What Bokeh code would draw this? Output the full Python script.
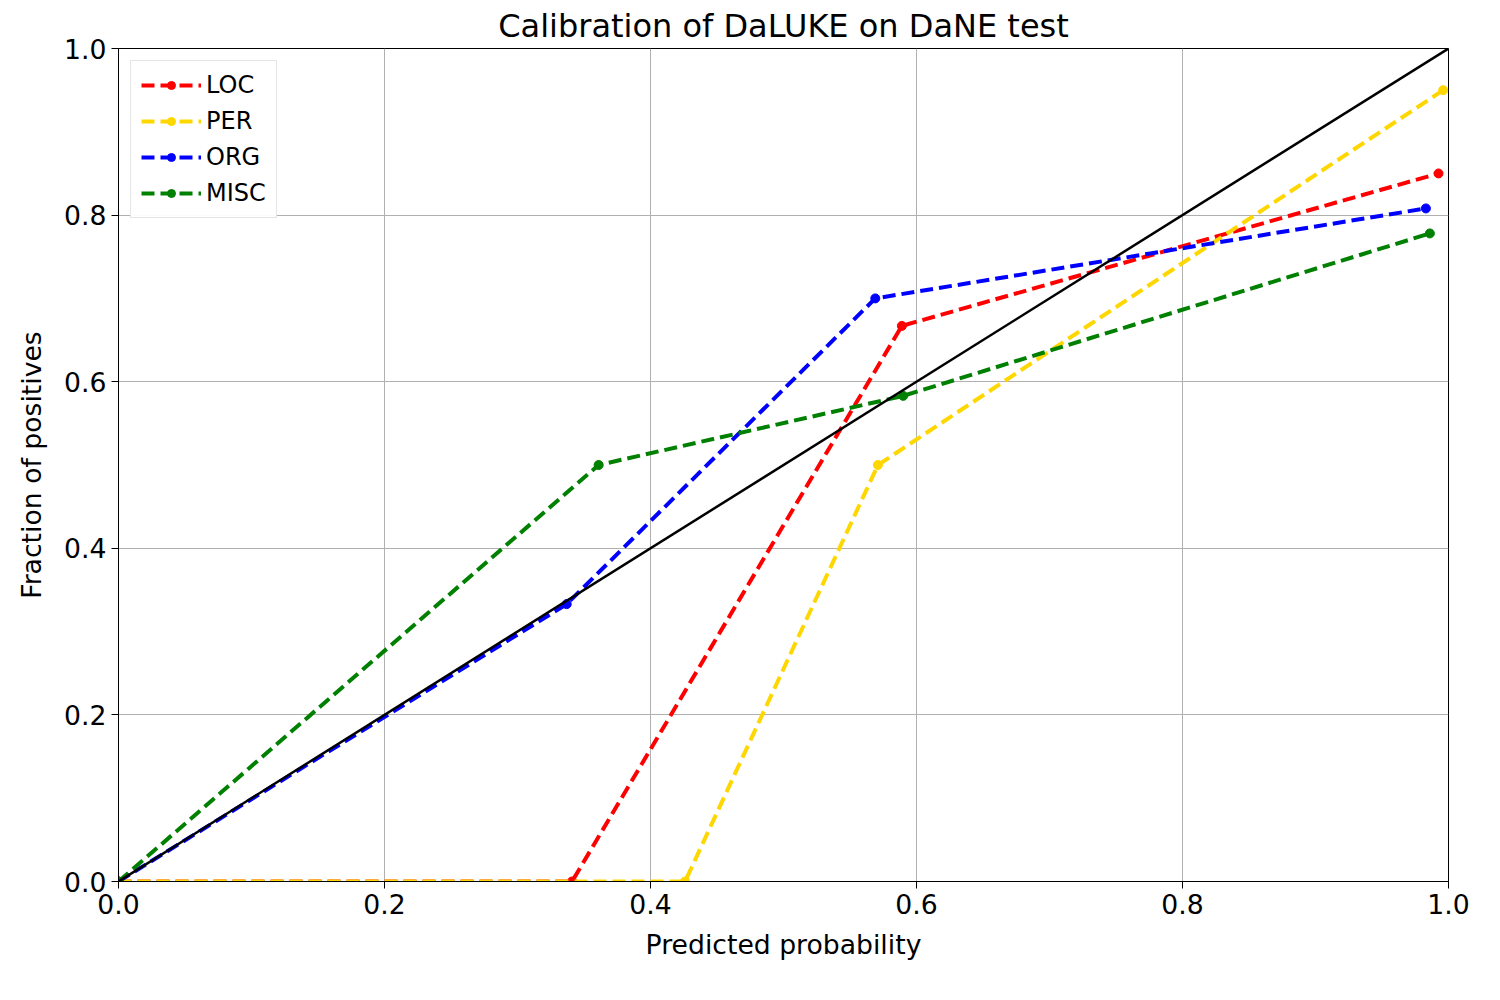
from bokeh.plotting import figure
from bokeh.embed import file_html
from bokeh.resources import INLINE
from bokeh.models import Range1d, FixedTicker

loc_x = [0.0, 0.341, 0.589, 0.9925]
loc_y = [0.0, 0.0, 0.667, 0.85]
per_x = [0.0, 0.426, 0.571, 0.996]
per_y = [0.0, 0.0, 0.5, 0.95]
org_x = [0.0, 0.337, 0.569, 0.983]
org_y = [0.0, 0.333, 0.7, 0.808]
misc_x = [0.0, 0.361, 0.590, 0.986]
misc_y = [0.0, 0.5, 0.583, 0.778]
series = [("LOC", loc_x, loc_y, "red"),
          ("PER", per_x, per_y, "gold"),
          ("ORG", org_x, org_y, "blue"),
          ("MISC", misc_x, misc_y, "green")]
ticks = [0, 0.2, 0.4, 0.6, 0.8, 1.0]
font = "DejaVu Sans"

p = figure(frame_width=1330, frame_height=833, output_backend="svg",
           toolbar_location=None, title="Calibration of DaLUKE on DaNE test",
           x_range=Range1d(0, 1), y_range=Range1d(0, 1),
           min_border_left=118, min_border_right=36, min_border_top=14, min_border_bottom=20)
p.title.text_font = font
p.title.text_font_size = "24pt"
p.title.text_font_style = "normal"
p.title.align = "center"
p.title.text_color = "black"
p.title.standoff = 8
for ax, lab in ((p.xaxis[0], "Predicted probability"), (p.yaxis[0], "Fraction of positives")):
    ax.axis_label = lab
    ax.axis_label_text_font = font
    ax.axis_label_text_font_size = "20pt"
    ax.axis_label_text_font_style = "normal"
    ax.axis_label_text_color = "black"
    ax.major_label_text_font = font
    ax.major_label_text_font_size = "20pt"
    ax.major_label_text_color = "black"
    ax.ticker = FixedTicker(ticks=ticks)
    ax.minor_tick_line_color = None
    ax.major_tick_out = 7
    ax.major_tick_in = 0
    ax.axis_line_color = "black"
    ax.major_label_overrides = {t: f"{t:.1f}" for t in ticks}
p.xaxis[0].axis_label_standoff = 12
p.yaxis[0].axis_label_standoff = 14
p.xgrid.grid_line_color = "#b0b0b0"
p.ygrid.grid_line_color = "#b0b0b0"
p.outline_line_color = "black"

for name, xs, ys, c in series:
    p.line(xs, ys, color=c, line_width=4, line_dash="13 6", legend_label=name)
    p.scatter(xs, ys, color=c, size=9, legend_label=name)
p.line([0, 1], [0, 1], color="black", line_width=2.5)

p.legend.location = "top_left"
p.legend.label_text_font = font
p.legend.label_text_font_size = "18pt"
p.legend.label_text_color = "black"
p.legend.border_line_color = "#cccccc"
p.legend.margin = 12
p.legend.spacing = 8
p.legend.padding = 10
p.legend.glyph_width = 60

open("out.html", "w").write(file_html(p, INLINE))
